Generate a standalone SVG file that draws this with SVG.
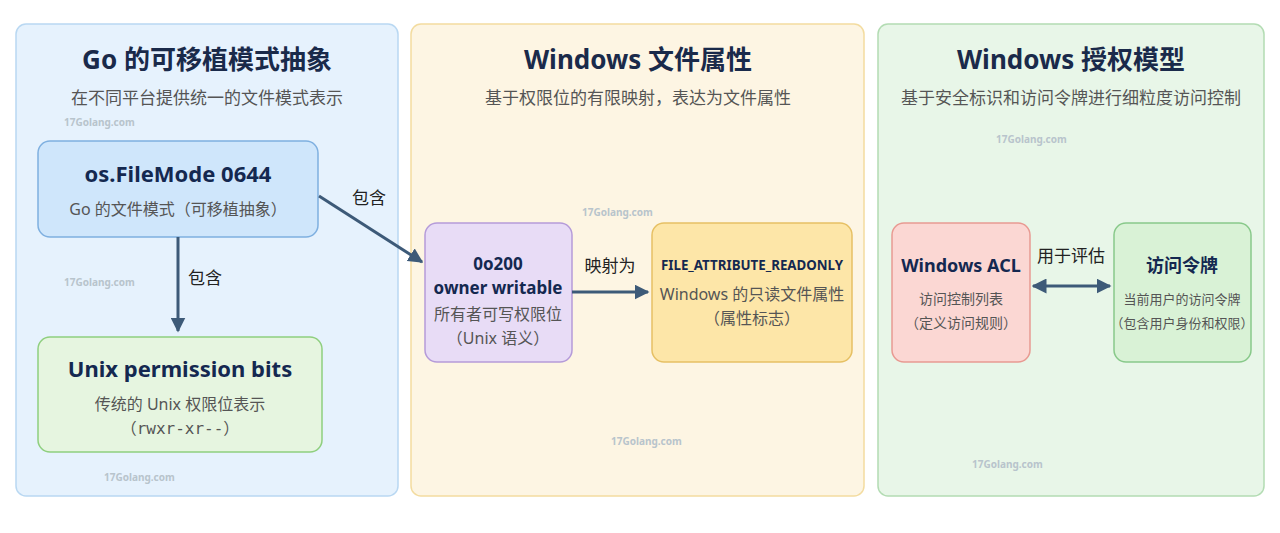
<svg xmlns="http://www.w3.org/2000/svg" width="1280" height="533" viewBox="0 0 1280 533">
<style>
text{font-family:"Noto Sans","Noto Sans CJK SC",sans-serif;text-anchor:middle}
.t{font-size:26px;font-weight:bold;fill:#1a2a4a}
.s{font-size:17px;fill:#555}
.h{font-size:22px;font-weight:bold;fill:#142850}
.h2{font-size:17px;font-weight:bold;fill:#142850}
.d{font-size:16px;fill:#555}
.l{font-size:17px;fill:#222}
.w{font-size:10px;fill:#b8c4cc;text-anchor:start;font-weight:bold}
.c{stroke:#3d5a78;stroke-width:3;fill:none}
</style>
<defs>
<marker id="a" viewBox="0 0 10 10" refX="9" refY="5" markerWidth="5" markerHeight="5" orient="auto-start-reverse"><path d="M0,0L10,5L0,10z" fill="#3d5a78"/></marker>
</defs>
<rect width="1280" height="533" fill="#fff"/>
<g id="panel-go">
<rect x="16" y="24" width="382" height="472" rx="10" fill="#e6f2fd" stroke="#b9d8f2" stroke-width="1.5"/>
<text class="t" x="207" y="69">Go 的可移植模式抽象</text>
<text class="s" x="207" y="104">在不同平台提供统一的文件模式表示</text>
</g>
<g id="panel-win">
<rect x="411" y="24" width="453" height="472" rx="10" fill="#fdf5e3" stroke="#f3dca0" stroke-width="1.5"/>
<text class="t" x="638" y="69">Windows 文件属性</text>
<text class="s" x="638" y="104">基于权限位的有限映射，表达为文件属性</text>
</g>
<g id="panel-auth">
<rect x="878" y="24" width="386" height="472" rx="10" fill="#e8f6e8" stroke="#b3dcb3" stroke-width="1.5"/>
<text class="t" x="1071" y="69">Windows 授权模型</text>
<text class="s" x="1071" y="104">基于安全标识和访问令牌进行细粒度访问控制</text>
</g>
<g id="watermarks">
<text class="w" x="64" y="126">17Golang.com</text>
<text class="w" x="64" y="286">17Golang.com</text>
<text class="w" x="104" y="481">17Golang.com</text>
<text class="w" x="582" y="216">17Golang.com</text>
<text class="w" x="611" y="445">17Golang.com</text>
<text class="w" x="996" y="143">17Golang.com</text>
<text class="w" x="920" y="241">17Golang.com</text>
<text class="w" x="972" y="468">17Golang.com</text>
</g>
<g id="n-filemode">
<rect x="38" y="141" width="280" height="96" rx="12" fill="#cfe6fb" stroke="#7fb0e0" stroke-width="1.5"/>
<text class="h" x="178" y="182">os.FileMode 0644</text>
<text class="d" x="178" y="215">Go 的文件模式（可移植抽象）</text>
</g>
<g id="n-unix">
<rect x="38" y="337" width="284" height="115" rx="12" fill="#e6f5e0" stroke="#8fcf7f" stroke-width="1.5"/>
<text class="h" x="180" y="377">Unix permission bits</text>
<text class="d" x="180" y="410">传统的 Unix 权限位表示</text>
<text class="d" x="180" y="434" style="font-family:'DejaVu Sans Mono','Noto Sans CJK SC',monospace">（rwxr-xr--）</text>
</g>
<g id="n-owner">
<rect x="425" y="223" width="147" height="139" rx="12" fill="#e8dcf6" stroke="#b59bd9" stroke-width="1.5"/>
<text class="h2" x="498" y="270">0o200</text>
<text class="h2" x="498" y="294">owner writable</text>
<text class="d" x="498" y="320">所有者可写权限位</text>
<text class="d" x="498" y="344">（Unix 语义）</text>
</g>
<g id="n-readonly">
<rect x="652" y="223" width="200" height="139" rx="12" fill="#fde6a8" stroke="#e6c064" stroke-width="1.5"/>
<text class="h2" x="752" y="270" style="font-size:15px" textLength="182" lengthAdjust="spacingAndGlyphs">FILE_ATTRIBUTE_READONLY</text>
<text class="d" x="752" y="300">Windows 的只读文件属性</text>
<text class="d" x="752" y="324">（属性标志）</text>
</g>
<g id="n-acl">
<rect x="892" y="223" width="138" height="139" rx="12" fill="#fbd7d3" stroke="#e89a92" stroke-width="1.5"/>
<text class="h2" x="961" y="272" style="font-size:18px">Windows ACL</text>
<text class="d" x="961" y="304" style="font-size:14px">访问控制列表</text>
<text class="d" x="961" y="328" style="font-size:14px">（定义访问规则）</text>
</g>
<g id="n-token">
<rect x="1114" y="223" width="137" height="139" rx="12" fill="#d9f2d6" stroke="#88c98a" stroke-width="1.5"/>
<text class="h2" x="1182" y="272" style="font-size:18px">访问令牌</text>
<text class="d" x="1182" y="304" style="font-size:13px">当前用户的访问令牌</text>
<text class="d" x="1182" y="328" style="font-size:13px">（包含用户身份和权限）</text>
</g>
<g id="connectors">
<path class="c" d="M178,237V331" marker-end="url(#a)"/>
<text class="l" x="205" y="284">包含</text>
<path class="c" d="M319,196L422,262" marker-end="url(#a)"/>
<text class="l" x="369" y="204">包含</text>
<path class="c" d="M572,292H648" marker-end="url(#a)"/>
<text class="l" x="610" y="272">映射为</text>
<path class="c" d="M1033,286H1110" marker-start="url(#a)" marker-end="url(#a)"/>
<text class="l" x="1071" y="262">用于评估</text>
</g>
</svg>
